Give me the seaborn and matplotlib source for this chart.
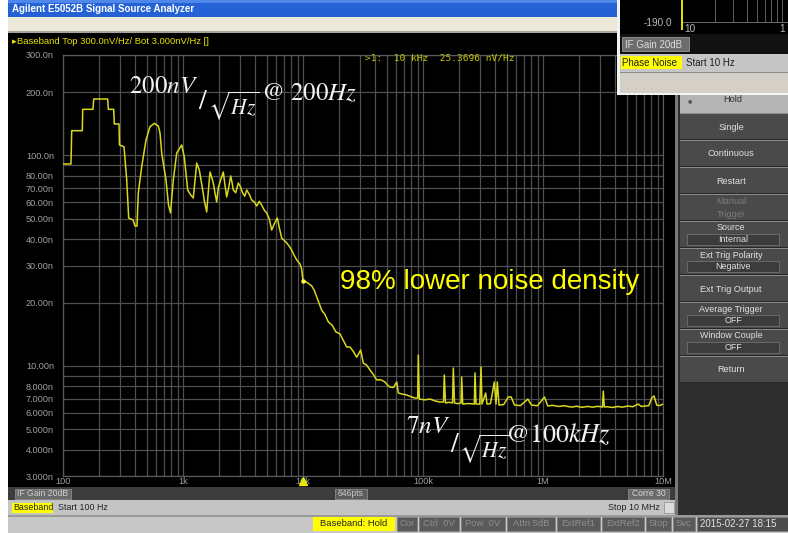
import matplotlib
matplotlib.use("Agg")
import matplotlib.pyplot as plt
import matplotlib.transforms as mtransforms
from matplotlib.patches import Rectangle
from matplotlib.ticker import FixedLocator, FixedFormatter, NullLocator
import pandas as pd
import seaborn as sns

# ---------------------------------------------------------------- data
# Baseband noise density trace, 100 Hz .. 10 MHz  (Hz, nV/sqrt(Hz))
low_freq_hz = [100, 116.6, 118.2, 144.8, 146.0, 177.8, 180.3, 235.7, 238.5, 264.5,
               267.6, 292.9, 295.7, 322.4, 339.6, 352.7, 383.1, 398.1, 413.7, 424.1,
               452.7, 491.7, 530.9, 576.7, 622.6, 643.3, 664.7, 721.8, 757.3, 786.8,
               830.2, 886.1, 975.4, 1025, 1094, 1159, 1218, 1301, 1367, 1460]
low_noise_nv = [91.1, 91.1, 131.1, 131.1, 165.6, 165.6, 185.4, 185.4, 165.6, 165.6,
                141.1, 141.1, 112.1, 110.0, 76.4, 50.4, 49.4, 46.2, 46.2, 66.3,
                88.4, 118.4, 136.9, 142.1, 138.0, 127.8, 102.7, 76.4, 58.1, 53.3,
                76.4, 102.7, 112.1, 98.3, 68.5, 64.9, 62.8, 92.0, 85.3, 68.5]

mid_freq_hz = [1504, 1576, 1620, 1679, 1730, 1788, 1850, 1909, 1970, 2034,
               2100, 2167, 2240, 2313, 2400, 2497, 2560, 2626, 2750, 2890,
               3010, 3144, 3270, 3396, 3560, 3737, 3920, 4114, 4320, 4527,
               4750, 4983, 5230, 5485, 5780, 6106, 6370, 6644, 6970, 7313,
               7680, 8050, 8450, 8862, 9441, 9750, 10000]
mid_noise_nv = [61.0, 53.9, 66.0, 83.4, 79.0, 74.0, 66.0, 60.1, 70.5, 74.8,
                79.0, 83.4, 72.0, 63.5, 70.0, 79.9, 74.5, 68.5, 66.5, 74.0,
                71.0, 66.3, 64.0, 68.5, 65.5, 61.4, 60.2, 57.5, 60.5, 58.1,
                55.0, 53.3, 50.0, 44.2, 47.5, 50.4, 45.0, 40.5, 39.5, 38.4,
                37.0, 35.5, 33.5, 31.9, 30.5, 28.8, 25.37]

slope_freq_hz = [10735, 11816, 12400, 13007, 14314, 15200, 16248, 17500, 18836, 20339,
                 21700, 23130, 24645, 26300, 28028, 30262, 31806, 33900, 36155, 38600,
                 41140, 44500, 48237, 50600, 53088, 56800, 60375, 62266, 67000, 73150,
                 79000, 85770, 90320, 91370, 93140]
slope_noise_nv = [25.0, 24.0, 22.9, 21.3, 18.4, 17.6, 16.2, 15.6, 14.5, 14.2,
                  13.2, 12.3, 12.3, 11.7, 11.0, 11.9, 10.3, 10.1, 9.57, 9.1,
                  8.58, 8.6, 8.39, 8.1, 7.94, 7.9, 8.39, 7.44, 7.35, 7.28,
                  7.15, 7.04, 7.04, 11.27, 6.96]

floor_freq_hz = [103000, 114400, 126000, 138600, 148200, 150500, 154000, 165000, 176200, 178900,
                 183000, 195000, 207300, 210100, 214200, 240000, 267600, 271300, 276600, 297400,
                 304300, 310200, 333100, 341500, 365000, 392900, 405900, 416100, 429800, 470000,
                 513900, 543300, 578800, 650000, 746900, 802100, 900000, 1029000, 1096000, 1200000,
                 1350000, 1500000, 1650000, 1772000, 1900000, 2100000, 2350000, 2600000, 2850000, 3131000,
                 3180000, 3242000, 3400000, 3800000, 4200000, 4600000, 5100000, 5600000, 6227000, 6600000,
                 7079000, 7600000, 8052000, 8414000, 8862000, 9400000, 10000000]
floor_noise_nv = [6.90, 6.96, 6.82, 6.74, 6.74, 9.06, 6.67, 6.72, 6.67, 9.78,
                  6.67, 6.62, 6.67, 8.86, 6.59, 6.63, 6.59, 9.26, 6.59, 6.59,
                  9.88, 6.59, 7.44, 6.59, 6.62, 8.39, 6.59, 8.39, 6.52, 6.55,
                  7.12, 7.12, 6.52, 6.48, 6.96, 6.52, 6.47, 7.12, 6.45, 6.50,
                  6.42, 6.47, 6.40, 6.38, 6.44, 6.36, 6.42, 6.37, 6.43, 6.38,
                  7.60, 6.38, 6.40, 6.35, 6.42, 6.37, 6.45, 6.40, 6.59, 6.42,
                  6.45, 6.47, 7.04, 7.20, 6.52, 6.48, 6.59]

# axis ticks and labels
ytick_values = [3, 4, 5, 6, 7, 8, 9, 10, 20, 30, 40, 50, 60, 70, 80, 90, 100, 200, 300]
ytick_labels = ["3.000n", "4.000n", "5.000n", "6.000n", "7.000n", "8.000n", "",
                "10.00n", "20.00n", "30.00n", "40.00n", "50.00n", "60.00n", "70.00n",
                "80.00n", "", "100.0n", "200.0n", "300.0n"]
xdecades = [100, 1000, 10000, 100000, 1000000, 10000000]
xdecade_labels = ["100", "1k", "10k", "100k", "1M", "10M"]

marker_freq_hz = 10000
marker_value_nv = 25.3696

# ---------------------------------------------------------------- style
sns.set_style("dark")
plt.rcParams["font.family"] = ["Liberation Sans", "DejaVu Sans"]
plt.rcParams["mathtext.fontset"] = "stix"

W, H = 788, 533
TRACE = "#d8d81c"
GRID = "#4e4e4e"
TICK = "#a0a0a0"
YELLOW = "#ffff00"

fig = plt.figure(figsize=(W / 100, H / 100), dpi=100)
fig.patch.set_facecolor("white")

bg = fig.add_axes([0, 0, 1, 1], zorder=0)
bg.set_xlim(0, W)
bg.set_ylim(H, 0)
bg.axis("off")


def rect(a, x, y, w, h, fc, ec="none", lw=0.0, z=1):
    a.add_patch(Rectangle((x, y), w, h, facecolor=fc, edgecolor=ec,
                          linewidth=lw, zorder=z))


def txt(a, x, y, s, color, size, ha="left", va="center", z=5, **kw):
    a.text(x, y, s, color=color, fontsize=size, ha=ha, va=va, zorder=z, **kw)


# window chrome
rect(bg, 8, 0, 612, 17, "#2562d6")
rect(bg, 8, 0, 612, 3, "#4f88ea")
txt(bg, 12, 9, "Agilent E5052B Signal Source Analyzer", "white", 7.0, weight="bold")
rect(bg, 8, 17, 612, 16, "#ece9d8")
rect(bg, 8, 31, 612, 2, "#a8a69c")

# analyzer screen
rect(bg, 8, 33, 670, 454, "black")
rect(bg, 675, 95, 3, 420, "#7a7a7a")
txt(bg, 12, 41.5, "\u25B8", "#e6e600", 6.8, family=["DejaVu Sans"])
txt(bg, 17, 41.5, "Baseband Top 300.0nV/Hz/ Bot 3.000nV/Hz []", "#e6e600", 6.8)

# lower info bars
rect(bg, 8, 487, 667, 13, "#3c3c3c")
rect(bg, 15, 488.5, 56, 10, "#6a6a6a", ec="#8a8a8a", lw=0.6)
txt(bg, 17, 493.5, "IF Gain 20dB", "#d0d0d0", 6.2)
rect(bg, 335, 488.5, 32, 10, "#5c5c5c", ec="#8a8a8a", lw=0.6)
txt(bg, 351, 493.5, "646pts", "#c8c8c8", 6.2, ha="center")
rect(bg, 628, 488.5, 41, 10, "#6a6a6a", ec="#8a8a8a", lw=0.6)
txt(bg, 648.5, 493.5, "Corre 30", "#d8d8d8", 6.2, ha="center")

rect(bg, 8, 500, 667, 15, "#c4c4c4")
rect(bg, 12, 502.5, 41, 10, YELLOW)
txt(bg, 13, 507.5, "Baseband", "#222222", 6.4)
txt(bg, 58, 507.5, "Start 100 Hz", "#222222", 6.4)
txt(bg, 608, 507.5, "Stop 10 MHz", "#222222", 6.4)
rect(bg, 664, 502, 10, 11, "#dcdcdc", ec="#8a8a8a", lw=0.5)

# status bar
rect(bg, 8, 515, 780, 18, "#c8c8c8")
rect(bg, 8, 515, 780, 1.5, "#9a9a9a")
rect(bg, 313, 517, 82, 14, YELLOW)
txt(bg, 354, 524, "Baseband: Hold", "#222222", 6.8, ha="center")
status = [("Cor", 397, 20), ("Ctrl  0V", 419, 40), ("Pow  0V", 461, 44),
          ("Attn 5dB", 507, 48), ("ExtRef1", 557, 43), ("ExtRef2", 602, 42),
          ("Stop", 646, 25), ("Svc", 673, 22)]
for label, x0, w in status:
    rect(bg, x0, 517, w, 14, "#5a5a5a", ec="#7c7c7c", lw=0.5)
    txt(bg, x0 + w / 2, 524, label, "#8e8e8e", 6.8, ha="center")
rect(bg, 697, 517, 95, 14, "#4c4c4c", ec="#7c7c7c", lw=0.5)
txt(bg, 700, 524, "2015-02-27 18:15", "#e4e4e4", 7.0)

# softkey panel
rect(bg, 678, 95, 110, 420, "#2e2e2e")
rect(bg, 680, 94, 108, 19, "#b4b4b4")
rect(bg, 680, 94, 108, 1, "#e8e8e8")
txt(bg, 688, 101, "\u25CF", "#555555", 3.5, family=["DejaVu Sans"])
txt(bg, 733, 100, "Hold", "#303030", 6.6, ha="center")
softkeys = [("Single", None, True), ("Continuous", None, True), ("Restart", None, True),
            ("Manual\nTrigger", None, False), ("Source", "Internal", True),
            ("Ext Trig Polarity", "Negative", True), ("Ext Trig Output", None, True),
            ("Average Trigger", "OFF", True), ("Window Couple", "OFF", True),
            ("Return", None, True)]
for i, (label, value, active) in enumerate(softkeys):
    y0 = 113 + 27 * i
    rect(bg, 680, y0, 108, 27, "#4a4a4a")
    rect(bg, 680, y0, 108, 1.2, "#8a8a8a")
    rect(bg, 680, y0 + 25.8, 108, 1.2, "#262626")
    col = "#e2e2e2" if active else "#7a7a7a"
    if value is None:
        txt(bg, 731, y0 + 14, label, col, 6.6, ha="center", linespacing=1.45)
    else:
        txt(bg, 731, y0 + 7, label, col, 6.4, ha="center")
        rect(bg, 687, y0 + 13, 92, 11, "#3c3c3c", ec="#707070", lw=0.6)
        txt(bg, 733, y0 + 18.5, value, col, 6.4, ha="center")

# ---------------------------------------------------------------- trace
ax = fig.add_axes([63 / W, 1 - 476 / H, 600 / W, 421 / H], zorder=1)
ax.set_facecolor("black")

trace = pd.DataFrame({
    "Frequency (Hz)": low_freq_hz + mid_freq_hz + slope_freq_hz + floor_freq_hz,
    "Noise density (nV/rtHz)": low_noise_nv + mid_noise_nv + slope_noise_nv + floor_noise_nv,
})
sns.lineplot(data=trace, x="Frequency (Hz)", y="Noise density (nV/rtHz)", ax=ax,
             color=TRACE, linewidth=1.1, estimator=None, sort=False, zorder=3)

ax.set_xscale("log")
ax.set_yscale("log")
ax.set_xlim(100, 1e7)
ax.set_ylim(3, 300)

grid_x = [m * d for d in xdecades[:-1] for m in range(1, 10)] + [xdecades[-1]]
grid_x_labels = [xdecade_labels[xdecades.index(v)] if v in xdecades else "" for v in grid_x]
ax.xaxis.set_major_locator(FixedLocator(grid_x))
ax.xaxis.set_major_formatter(FixedFormatter(grid_x_labels))
ax.xaxis.set_minor_locator(NullLocator())
ax.yaxis.set_major_locator(FixedLocator(ytick_values))
ax.yaxis.set_major_formatter(FixedFormatter(ytick_labels))
ax.yaxis.set_minor_locator(NullLocator())
ax.grid(True, color=GRID, linewidth=0.9)
ax.set_axisbelow(True)
ax.tick_params(axis="both", length=0, labelsize=6.6, labelcolor=TICK)
ax.tick_params(axis="y", pad=6.5)
ax.tick_params(axis="x", pad=1.0)
ax.set_xlabel("")
ax.set_ylabel("")
for sp in ax.spines.values():
    sp.set_color("#5a5a5a")
    sp.set_linewidth(0.9)

# active marker
ax.plot([marker_freq_hz], [marker_value_nv], marker="o", ms=2.2, color="#ffff40", zorder=4)
ax.plot([marker_freq_hz], [-0.012], marker="^", ms=5.5, color="#e8e800",
        transform=mtransforms.blended_transform_factory(ax.transData, ax.transAxes),
        clip_on=False, zorder=4)

# ---------------------------------------------------------------- overlay layer
ov = fig.add_axes([0, 0, 1, 1], zorder=2)
ov.set_xlim(0, W)
ov.set_ylim(H, 0)
ov.axis("off")
ov.patch.set_alpha(0)

txt(ov, 365, 58, ">1:  10 kHz  25.3696 nV/Hz", "#c4c400", 6.8,
    family=["DejaVu Sans Mono"])

# small phase-noise window, top right (sits over the trace window)
rect(ov, 617, 0, 171, 95, "#d4d0c8")
rect(ov, 617, 0, 3, 95, "#f2f2f2")
rect(ov, 620, 0, 168, 34, "black")
rect(ov, 681, 22, 107, 0.8, "#6a6a6a")
for gx in [715, 733, 747, 757, 765, 771, 777, 782]:
    rect(ov, gx, 0, 0.8, 22, "#5a5a5a")
rect(ov, 681.5, 0, 1.2, 30, "#e0e000")
txt(ov, 672, 23.5, "-190.0", "#bdbdbd", 7.2, ha="right")
txt(ov, 684, 29, "10", "#bdbdbd", 7.2)
txt(ov, 779, 29, "1", "#bdbdbd", 7.2)
rect(ov, 620, 34, 168, 20, "#111111")
rect(ov, 622, 37, 67, 14, "#6c6c6c", ec="#9a9a9a", lw=0.6)
txt(ov, 625, 44.5, "IF Gain 20dB", "#dcdcdc", 7.0)
rect(ov, 620, 54, 168, 18, "#c6c6c6")
rect(ov, 621, 56, 61, 13, YELLOW)
txt(ov, 622.5, 63, "Phase Noise", "#202020", 7.0)
txt(ov, 686, 63, "Start 10 Hz", "#202020", 7.0)
rect(ov, 620, 72, 168, 1, "#8a8a8a")
rect(ov, 617, 93, 171, 1.5, "#f4f4f4")

# annotations
WHITE = "#f2f2f2"
txt(ov, 129, 93, r"$200nV$", WHITE, 18, va="baseline")
txt(ov, 198, 109, r"$/$", WHITE, 20, va="baseline")
txt(ov, 208, 114, r"$\sqrt{Hz}$", WHITE, 15.5, va="baseline")
txt(ov, 261, 100, r"@ $200Hz$", WHITE, 18, va="baseline", family=["STIXGeneral"])

txt(ov, 406, 433, r"$7nV$", WHITE, 18, va="baseline")
txt(ov, 450, 452, r"$/$", WHITE, 20, va="baseline")
txt(ov, 459, 457, r"$\sqrt{Hz}$", WHITE, 15.5, va="baseline")
txt(ov, 505, 442, r"$@100kHz$", WHITE, 18.8, va="baseline")

txt(ov, 340, 282, "98% lower noise density", YELLOW, 20)

fig.savefig("out.png", dpi=100, facecolor=fig.get_facecolor())
